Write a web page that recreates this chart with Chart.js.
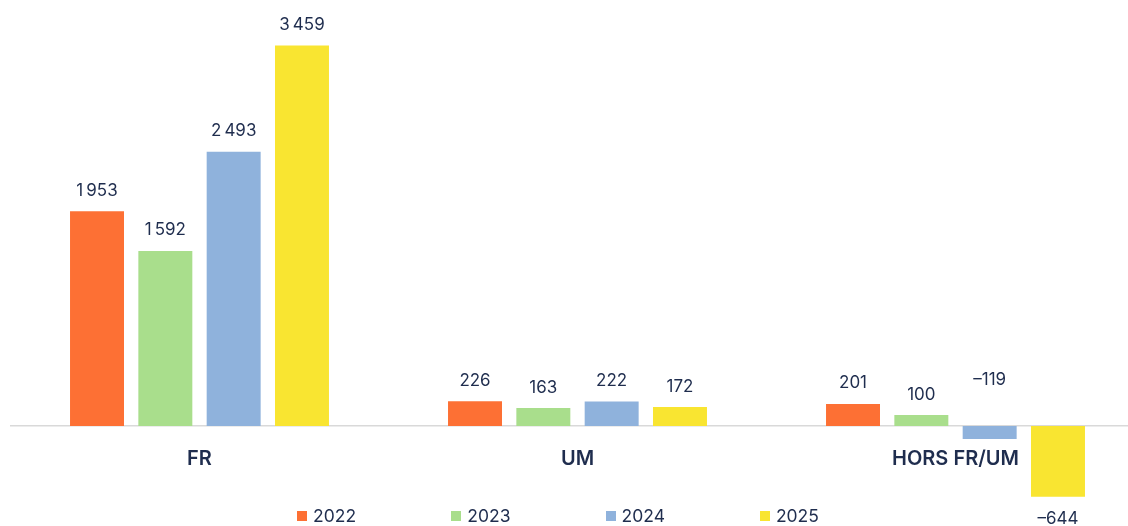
<!DOCTYPE html>
<html>
<head>
<meta charset="utf-8">
<script src="https://cdn.jsdelivr.net/npm/chart.js@4/dist/chart.umd.min.js"></script>
<style>
  html, body { margin: 0; padding: 0; background: #fff; overflow: hidden; }
  #wrap { position: relative; width: 1146px; height: 526px; }
  #legend { position: absolute; left: 297px; top: 505px; display: flex; font-family: Inter, sans-serif; font-size: 17.5px; color: #1f2d4e; }
  #legend .item { width: 154.3px; display: flex; align-items: center; }
  #legend .box { width: 10px; height: 10px; margin-right: 6px; }
</style>
</head>
<body>
<div id="wrap">
  <canvas id="chart" width="1146" height="526"></canvas>
  <div id="legend"></div>
</div>
<script>
// Data
const categories = ['FR', 'UM', 'HORS FR/UM'];
const years = ['2022', '2023', '2024', '2025'];
const values2022 = [1953, 226, 201];
const values2023 = [1592, 163, 100];
const values2024 = [2493, 222, -119];
const values2025 = [3459, 172, -644];
const colors = ['#fd7034', '#a9de8c', '#8fb2dc', '#f9e531'];

const textColor = '#1f2d4e';

const formatValue = (v) => {
  const s = Math.abs(v).toString().replace(/\B(?=(\d{3})+(?!\d))/g, '\u202f');
  return v < 0 ? '\u2013' + s : s;
};

const series = [values2022, values2023, values2024, values2025];

// Draws the value labels above (or below) each bar
const valueLabels = {
  id: 'valueLabels',
  afterDatasetsDraw(c) {
    const ctx = c.ctx;
    ctx.save();
    ctx.font = '17px Inter, sans-serif';
    ctx.fillStyle = textColor;
    ctx.textAlign = 'center';
    const zero = c.scales.y.getPixelForValue(0);
    c.data.datasets.forEach((ds, i) => {
      c.getDatasetMeta(i).data.forEach((bar, j) => {
        const v = ds.data[j];
        let y;
        if (v >= 0) {
          ctx.textBaseline = 'bottom';
          y = bar.y - 12;
        } else if (bar.y - zero < 30) {
          ctx.textBaseline = 'bottom';
          y = zero - 38;
        } else {
          ctx.textBaseline = 'top';
          y = bar.y + 14;
        }
        ctx.fillText(formatValue(v), bar.x, y);
      });
    });
    ctx.restore();
  },
};

const chart = new Chart(document.getElementById('chart'), {
  type: 'bar',
  data: {
    labels: categories,
    datasets: years.map((y, i) => ({
      label: y,
      data: series[i],
      backgroundColor: colors[i],
      categoryPercentage: 0.723,
      barPercentage: 0.79,
    })),
  },
  options: {
    responsive: false,
    animation: false,
    layout: {
      padding: { top: 30, bottom: 12, left: 10.5, right: 1.5 },
    },
    scales: {
      y: {
        display: false,
        min: -800,
        max: 3600,
      },
      x: {
        position: { y: 0 },
        border: { display: true, color: '#d9d9d9', width: 1.5 },
        grid: { display: false },
        ticks: {
          padding: 13,
          color: textColor,
          font: { family: 'Inter, sans-serif', size: 20, weight: '600' },
        },
      },
    },
    plugins: {
      legend: { display: false },
      tooltip: { enabled: false },
    },
  },
  plugins: [valueLabels],
});

// HTML legend
const legendEl = document.getElementById('legend');
years.forEach((y, i) => {
  const item = document.createElement('div');
  item.className = 'item';
  const box = document.createElement('span');
  box.className = 'box';
  box.style.background = colors[i];
  const label = document.createElement('span');
  label.textContent = y;
  item.appendChild(box);
  item.appendChild(label);
  legendEl.appendChild(item);
});
</script>
</body>
</html>
